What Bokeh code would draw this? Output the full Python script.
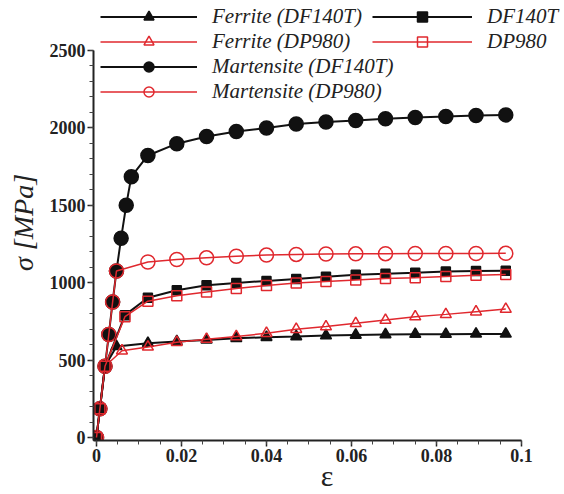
import numpy as np
from bokeh.plotting import figure
from bokeh.models import Range1d, FixedTicker, Legend, LegendItem
from bokeh.embed import file_html
from bokeh.resources import INLINE

# ---- data: true strain (-) and flow stress (MPa) ----
ferrite_df140t_eps = [0.0, 0.0008, 0.002, 0.0047, 0.0121, 0.0189, 0.0259, 0.0329, 0.0400,
                      0.0470, 0.0540, 0.0610, 0.0680, 0.0750, 0.0822, 0.0893, 0.0963]
ferrite_df140t_sig = [0, 185, 460, 588, 609, 620, 630, 641, 647,
                      652, 658, 662, 665, 667, 667, 669, 669]

ferrite_dp980_eps = [0.0, 0.0008, 0.002, 0.0060, 0.0121, 0.0189, 0.0259, 0.0329, 0.0400,
                     0.0470, 0.0540, 0.0610, 0.0680, 0.0750, 0.0822, 0.0893, 0.0963]
ferrite_dp980_sig = [0, 185, 460, 560, 585, 615, 635, 652, 673,
                     699, 716, 737, 758, 780, 795, 812, 829]

mart_df140t_eps = [0.0, 0.0008, 0.002, 0.0029, 0.0038, 0.0047, 0.0058, 0.0070, 0.0082,
                   0.0121, 0.0189, 0.0259, 0.0329, 0.0400, 0.0470, 0.0540, 0.0610,
                   0.0680, 0.0750, 0.0822, 0.0893, 0.0963]
mart_df140t_sig = [0, 185, 460, 665, 875, 1075, 1287, 1500, 1684,
                   1821, 1897, 1944, 1976, 1998, 2024, 2037, 2047,
                   2058, 2066, 2072, 2079, 2083]

mart_dp980_eps = [0.0, 0.0008, 0.002, 0.0029, 0.0038, 0.0047, 0.0121, 0.0189, 0.0259,
                  0.0329, 0.0400, 0.0470, 0.0540, 0.0610, 0.0680, 0.0750, 0.0822,
                  0.0893, 0.0963]
mart_dp980_sig = [0, 185, 460, 665, 875, 1075, 1133, 1149, 1160,
                  1170, 1178, 1182, 1185, 1186, 1187, 1188, 1188,
                  1188, 1189]

df140t_eps = [0.0, 0.0008, 0.002, 0.0067, 0.0121, 0.0189, 0.0259, 0.0329, 0.0400,
              0.0470, 0.0540, 0.0610, 0.0680, 0.0750, 0.0822, 0.0893, 0.0963]
df140t_sig = [0, 185, 460, 790, 902, 951, 983, 998, 1011,
              1024, 1038, 1051, 1058, 1064, 1072, 1075, 1077]

dp980_eps = [0.0, 0.0008, 0.002, 0.0067, 0.0121, 0.0189, 0.0259, 0.0329, 0.0400,
             0.0470, 0.0540, 0.0610, 0.0680, 0.0750, 0.0822, 0.0893, 0.0963]
dp980_sig = [0, 185, 460, 780, 880, 915, 940, 962, 981,
             998, 1008, 1017, 1026, 1032, 1040, 1047, 1053]

x_ticks = [0, 0.02, 0.04, 0.06, 0.08, 0.1]
x_tick_labels = ["0", "0.02", "0.04", "0.06", "0.08", "0.1"]
y_ticks = [0, 500, 1000, 1500, 2000, 2500]
y_tick_labels = ["0", "500", "1000", "1500", "2000", "2500"]

BLACK = "#111111"
RED = "#e0282e"
SERIF = "'Liberation Serif', 'Times New Roman', Times, serif"

# ---- figure ----
x0, x_scale = -0.0007, 4250.2      # px per unit strain
y0, y_scale = -19.3, 0.1556        # px per MPa
frame_w, frame_h = 467, 438

p = figure(width=564, height=494, output_backend="svg", toolbar_location=None,
           x_range=Range1d(x0, x0 + frame_w / x_scale),
           y_range=Range1d(y0, y0 + frame_h / y_scale),
           min_border_left=93, min_border_right=4, min_border_top=4, min_border_bottom=52)
p.grid.visible = False
p.outline_line_color = None
p.background_fill_color = "white"
p.border_fill_color = "white"

for ax in (p.xaxis[0], p.yaxis[0]):
    ax.axis_line_width = 2
    ax.axis_line_color = "#222222"
    ax.major_tick_line_color = "#222222"
    ax.minor_tick_line_color = "#444444"
    ax.major_tick_line_width = 1.5
    ax.minor_tick_line_width = 1
    ax.major_tick_out = 6
    ax.major_tick_in = 0
    ax.minor_tick_out = 4
    ax.minor_tick_in = 0
    ax.major_label_text_font = SERIF
    ax.major_label_text_font_style = "bold"
    ax.major_label_text_font_size = "18px"
    ax.major_label_text_color = "#222222"
    ax.major_label_standoff = 2
    ax.axis_label_text_font = SERIF
    ax.axis_label_text_color = "#222222"

p.xaxis.ticker = FixedTicker(ticks=x_ticks, minor_ticks=list(np.arange(0, 0.1001, 0.005)))
p.xaxis.major_label_overrides = dict(zip(x_ticks, x_tick_labels))
p.xaxis.bounds = (x0, 0.1)
p.xaxis.axis_label = "ε"
p.xaxis.axis_label_text_font_style = "normal"
p.xaxis.axis_label_text_font_size = "30px"
p.xaxis.axis_label_standoff = -6

p.yaxis.ticker = FixedTicker(ticks=y_ticks, minor_ticks=list(np.arange(0, 2501, 100)))
p.yaxis.major_label_overrides = dict(zip(y_ticks, y_tick_labels))
p.yaxis.bounds = (y0, 2500)
p.yaxis.axis_label = "σ [MPa]"
p.yaxis.axis_label_text_font_style = "italic"
p.yaxis.axis_label_text_font_size = "28px"
p.yaxis.axis_label_standoff = 8

# ---- curves ----
def curve(eps, sig, color, lw, marker, size, filled):
    ln = p.line(eps, sig, line_color=color, line_width=lw)
    sc = p.scatter(eps, sig, marker=marker, size=size, line_color=color, line_width=1.5,
                   fill_color=color if filled else None)
    return [ln, sc]

r_fd = curve(ferrite_df140t_eps, ferrite_df140t_sig, BLACK, 2, "triangle", 11, True)
r_fp = curve(ferrite_dp980_eps, ferrite_dp980_sig, RED, 1.5, "triangle", 11, False)
r_md = curve(mart_df140t_eps, mart_df140t_sig, BLACK, 2, "circle", 14, True)
r_mp = curve(mart_dp980_eps, mart_dp980_sig, RED, 1.5, "circle", 14, False)
r_d = curve(df140t_eps, df140t_sig, BLACK, 2, "square", 9, True)
r_p = curve(dp980_eps, dp980_sig, RED, 1.5, "square", 10, False)

def make_legend(items, loc, width):
    lg = Legend(items=items, location=loc, orientation="vertical",
                label_text_font=SERIF, label_text_font_style="italic",
                label_text_font_size="21px", label_text_color="#222222",
                glyph_width=width, glyph_height=25, label_height=25, spacing=0,
                padding=0, margin=0, label_standoff=15,
                border_line_color=None, background_fill_alpha=0)
    p.add_layout(lg)

make_legend([LegendItem(label="Ferrite (DF140T)", renderers=r_fd),
             LegendItem(label="Ferrite (DP980)", renderers=r_fp),
             LegendItem(label="Martensite (DF140T)", renderers=r_md),
             LegendItem(label="Martensite (DP980)", renderers=r_mp)],
            (7, 336), 97)
make_legend([LegendItem(label="DF140T", renderers=r_d),
             LegendItem(label="DP980", renderers=r_p)],
            (279, 386), 100)

open("out.html", "w").write(file_html(p, INLINE))
